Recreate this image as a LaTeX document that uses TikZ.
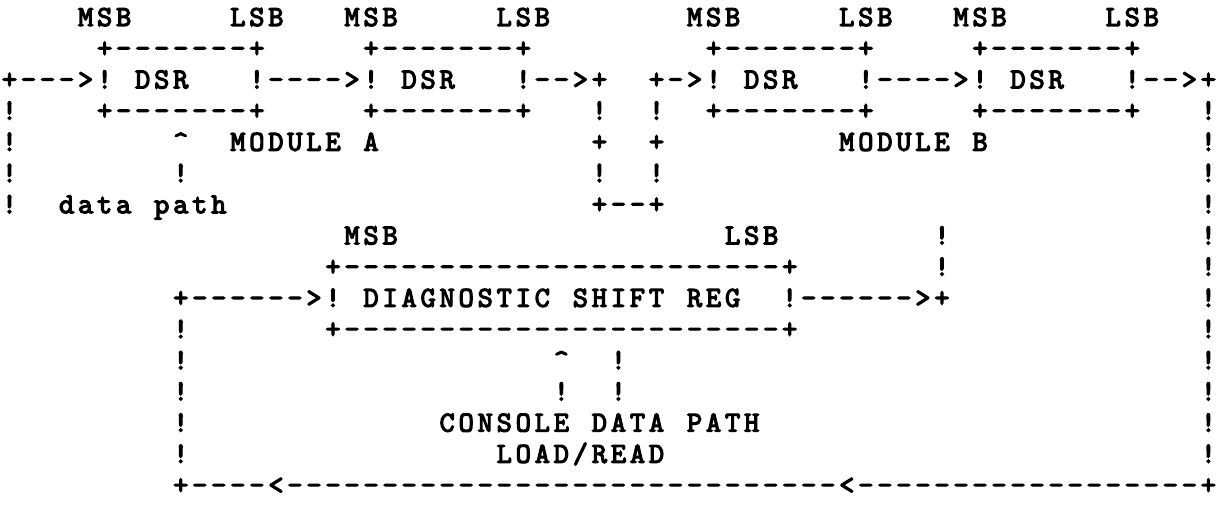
\documentclass[tikz,border=0pt]{standalone}
\usepackage{fontspec}
\newfontfamily\asciifont{lmmono10-regular.otf}[FakeBold=4]
\ExplSyntaxOn
\dim_new:N \l_asc_pitch_dim
\dim_set:Nn \l_asc_pitch_dim {19.03pt}
\cs_new:Npn \asrep #1#2 { \prg_replicate:nn {#1} {#2} }
\NewDocumentCommand \asciirow { m }
  {
    \exp_args:Ne \str_map_inline:nn { #1 }
      {
        \str_if_eq:nnTF { ##1 } { . }
          { \hbox_to_wd:nn { \l_asc_pitch_dim } { \hfil } }
          { \hbox_to_wd:nn { \l_asc_pitch_dim } { \hfil ##1 \hfil } }
      }
  }
\ExplSyntaxOff
\newcommand\boxtop{+\asrep{7}{-}+}
\newcommand\bigtop{+\asrep{23}{-}+}
\newcommand\frag[3]{\node[asc] (f#1-#2) at ({#2*19.03},{478-(#1-1)*31.2}) {\asciirow{#3}};}
\begin{document}
\begin{tikzpicture}[x=1pt,y=1pt,
  asc/.style={anchor=base west, inner sep=0pt, outer sep=0pt,
    font=\asciifont\fontsize{29pt}{29pt}\selectfont, text=black}]
\fill[white] (0,0) rectangle (1218,504);
\useasboundingbox (0,0) rectangle (1218,504);
% row 1
\frag{1}{4}{MSB}\frag{1}{12}{LSB}\frag{1}{18}{MSB}\frag{1}{26}{LSB}
\frag{1}{36}{MSB}\frag{1}{44}{LSB}\frag{1}{50}{MSB}\frag{1}{58}{LSB}
% row 2
\frag{2}{5}{\boxtop}\frag{2}{19}{\boxtop}\frag{2}{37}{\boxtop}\frag{2}{51}{\boxtop}
% row 3
\frag{3}{0}{+--->!.DSR...!---->!.DSR...!-->+}
\frag{3}{34}{+->!.DSR...!---->!.DSR...!-->+}
% row 4
\frag{4}{0}{!}\frag{4}{5}{\boxtop}\frag{4}{19}{\boxtop}\frag{4}{31}{!}\frag{4}{34}{!}
\frag{4}{37}{\boxtop}\frag{4}{51}{\boxtop}\frag{4}{63}{!}
% row 5
\frag{5}{0}{!}\frag{5}{9}{^}\frag{5}{12}{MODULE.A}\frag{5}{31}{+}\frag{5}{34}{+}
\frag{5}{44}{MODULE.B}\frag{5}{63}{!}
% row 6
\frag{6}{0}{!}\frag{6}{9}{!}\frag{6}{31}{!}\frag{6}{34}{!}\frag{6}{63}{!}
% row 7
\frag{7}{0}{!}\frag{7}{3}{data.path}\frag{7}{31}{+--+}\frag{7}{63}{!}
% row 8
\frag{8}{18}{MSB}\frag{8}{38}{LSB}\frag{8}{49}{!}\frag{8}{63}{!}
% row 9
\frag{9}{17}{\bigtop}\frag{9}{49}{!}\frag{9}{63}{!}
% row 10
\frag{10}{9}{+\asrep{6}{-}>!.DIAGNOSTIC.SHIFT.REG..!\asrep{6}{-}>+}\frag{10}{63}{!}
% row 11
\frag{11}{9}{!}\frag{11}{17}{\bigtop}\frag{11}{63}{!}
% row 12
\frag{12}{9}{!}\frag{12}{29}{^}\frag{12}{32}{!}\frag{12}{63}{!}
% row 13
\frag{13}{9}{!}\frag{13}{29}{!}\frag{13}{32}{!}\frag{13}{63}{!}
% row 14
\frag{14}{9}{!}\frag{14}{23}{CONSOLE.DATA.PATH}\frag{14}{63}{!}
% row 15
\frag{15}{9}{!}\frag{15}{26}{LOAD/READ}\frag{15}{63}{!}
% row 16
\frag{16}{9}{+----<\asrep{29}{-}<\asrep{18}{-}+}
\end{tikzpicture}
\end{document}
